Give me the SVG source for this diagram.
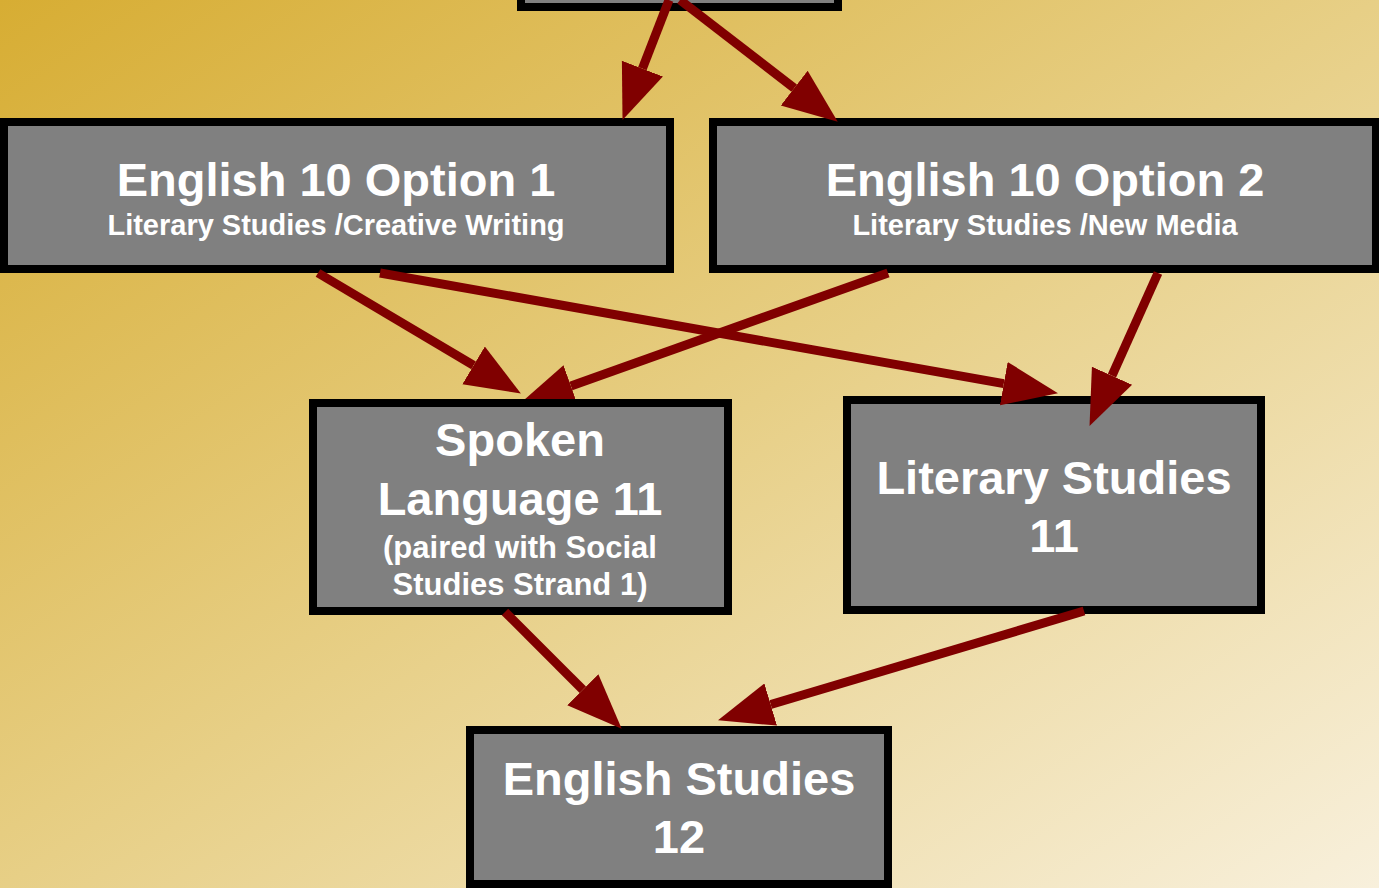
<svg xmlns="http://www.w3.org/2000/svg" width="1379" height="888" viewBox="0 0 1379 888">
  <defs>
    <linearGradient id="bg" x1="0" y1="0" x2="1" y2="1">
      <stop offset="0" stop-color="#D7AD33"/>
      <stop offset="0.5" stop-color="#E7CF86"/>
      <stop offset="1" stop-color="#F8F0DC"/>
    </linearGradient>
    <marker id="ah" markerUnits="userSpaceOnUse" orient="auto" markerWidth="56" markerHeight="46" viewBox="0 -23 56 46" refX="0" refY="0">
      <path d="M0,-22 L55,0 L0,22 Z" fill="#800000"/>
    </marker>
    <clipPath id="clipSpoken">
      <rect x="0" y="0" width="1379" height="399"/>
    </clipPath>
    <style>
      .box { fill: #808080; stroke: #000000; stroke-width: 8; }
      .t { font-family: "Liberation Sans", Arial, sans-serif; font-weight: bold; fill: #FFFFFF; text-anchor: middle; }
      .big { font-size: 47px; }
      .sub { font-size: 29px; }
      .mid { font-size: 31px; }
      .edge { stroke: #800000; stroke-width: 9; fill: none; marker-end: url(#ah); }
    </style>
  </defs>
  <rect x="0" y="0" width="1379" height="888" fill="url(#bg)"/>

  <g id="node-top">
    <rect class="box" x="521" y="-50" width="317" height="57"/>
  </g>

  <g id="node-eng10-opt1">
    <rect class="box" x="4" y="122" width="666" height="147"/>
    <text class="t big" x="336" y="196">English 10 Option 1</text>
    <text class="t sub" x="336" y="235">Literary Studies /Creative Writing</text>
  </g>

  <g id="node-eng10-opt2">
    <rect class="box" x="713" y="122" width="663" height="147"/>
    <text class="t big" x="1045" y="196">English 10 Option 2</text>
    <text class="t sub" x="1045" y="235">Literary Studies /New Media</text>
  </g>

  <g id="node-spoken11">
    <rect class="box" x="313" y="403" width="415" height="208"/>
    <text class="t big" x="520" y="456">Spoken</text>
    <text class="t big" x="520" y="515">Language 11</text>
    <text class="t mid" x="520" y="558">(paired with Social</text>
    <text class="t mid" x="520" y="595">Studies Strand 1)</text>
  </g>

  <g id="node-litstudies11">
    <rect class="box" x="847" y="400" width="414" height="210"/>
    <text class="t big" x="1054" y="494">Literary Studies</text>
    <text class="t big" x="1054" y="552">11</text>
  </g>

  <g id="node-engstudies12">
    <rect class="box" x="470" y="730" width="418" height="154"/>
    <text class="t big" x="679" y="795">English Studies</text>
    <text class="t big" x="679" y="853">12</text>
  </g>

  <g id="connectors">
    <path class="edge" d="M669,0 L642.4,68.6"/>
    <path class="edge" d="M680,0 L794.2,88.1"/>
    <path class="edge" d="M318,273 L473.6,365.4"/>
    <path class="edge" d="M380,273 L1003.8,383.6"/>
    <path class="edge" d="M888,273 L570.9,385.9" clip-path="url(#clipSpoken)"/>
    <path class="edge" d="M1158,273 L1112,375.7"/>
    <path class="edge" d="M505,612 L582.8,689.8"/>
    <path class="edge" d="M1084,611 L770.7,704.5"/>
  </g>
</svg>
